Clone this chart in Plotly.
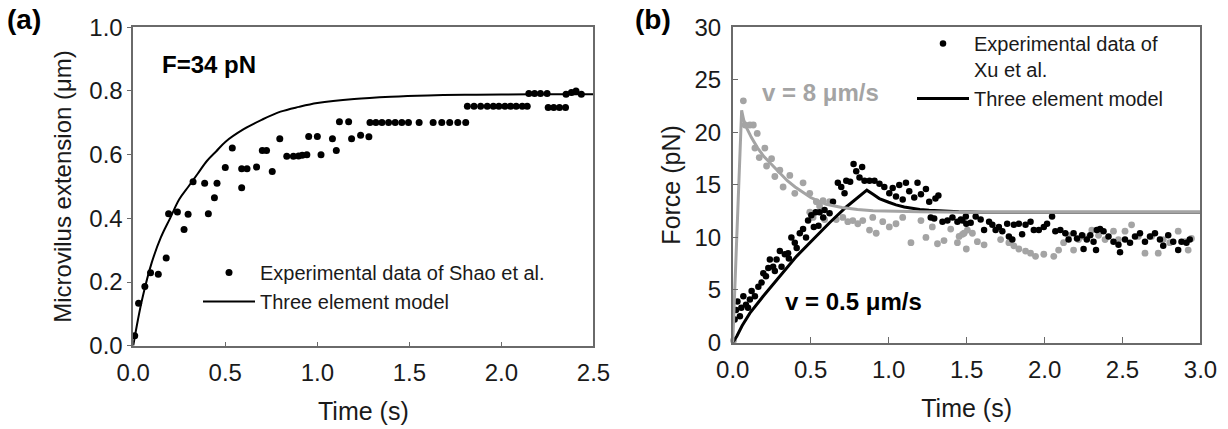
import plotly.graph_objects as go

# ---------------- Panel (a) data ----------------
a_exp_t = [0.008, 0.029, 0.063, 0.094, 0.136, 0.179, 0.192, 0.240, 0.276, 0.298,
           0.325, 0.388, 0.408, 0.441, 0.455, 0.500, 0.538, 0.589, 0.589, 0.618,
           0.670, 0.701, 0.724, 0.755, 0.796, 0.834, 0.870, 0.898, 0.918, 0.943,
           0.953, 1.000, 1.020, 1.082, 1.103, 1.120, 1.170, 1.186, 1.235, 1.280,
           1.286, 1.318, 1.351, 1.387, 1.423, 1.459, 1.495, 1.553, 1.629, 1.676,
           1.719, 1.763, 1.806,
           1.815, 1.851, 1.887, 1.923, 1.956, 1.986, 2.019, 2.050, 2.080, 2.113, 2.140,
           2.149, 2.180, 2.212, 2.248,
           2.254, 2.284, 2.315, 2.348,
           2.351, 2.380, 2.405, 2.434]
a_exp_y = [0.031, 0.133, 0.186, 0.229, 0.224, 0.275, 0.414, 0.420, 0.365, 0.413,
           0.515, 0.510, 0.414, 0.465, 0.510, 0.560, 0.621, 0.496, 0.556, 0.556,
           0.561, 0.613, 0.613, 0.547, 0.650, 0.595, 0.595, 0.596, 0.598, 0.600,
           0.657, 0.657, 0.600, 0.650, 0.613, 0.703, 0.703, 0.650, 0.661, 0.656,
           0.701, 0.701, 0.701, 0.701, 0.701, 0.701, 0.701, 0.701, 0.701, 0.701,
           0.701, 0.701, 0.701,
           0.752, 0.752, 0.752, 0.752, 0.752, 0.752, 0.752, 0.752, 0.752, 0.752, 0.752,
           0.792, 0.792, 0.792, 0.792,
           0.748, 0.748, 0.748, 0.748,
           0.790, 0.795, 0.800, 0.790]

a_model_t = [0.0, 0.025, 0.05, 0.1, 0.15, 0.2, 0.25, 0.3, 0.35, 0.4, 0.45, 0.5,
             0.6, 0.7, 0.8, 0.9, 1.0, 1.2, 1.4, 1.6, 1.8, 2.0, 2.25, 2.5]
a_model_y = [0.0, 0.08, 0.15, 0.26, 0.34, 0.40, 0.46, 0.50, 0.54, 0.58, 0.61, 0.64,
             0.68, 0.71, 0.735, 0.75, 0.762, 0.775, 0.782, 0.786, 0.788, 0.789, 0.79, 0.79]

# ---------------- Panel (b) data ----------------
b_black_t = [0.012, 0.021, 0.030, 0.046, 0.055, 0.068, 0.085, 0.098, 0.110, 0.121,
             0.142, 0.164, 0.185, 0.196, 0.213, 0.228, 0.238, 0.259, 0.270, 0.281,
             0.302, 0.313, 0.334, 0.355, 0.360, 0.376, 0.398, 0.410, 0.430, 0.451,
             0.470, 0.483, 0.504, 0.520, 0.532, 0.550, 0.557, 0.580, 0.589, 0.621,
             0.643, 0.674, 0.696, 0.717, 0.728, 0.753, 0.775, 0.792, 0.813, 0.830,
             0.845, 0.877, 0.909, 0.941, 0.972, 1.004, 1.026, 1.047, 1.068, 1.090,
             1.111, 1.132, 1.164, 1.185, 1.207, 1.239, 1.260, 1.270, 1.292, 1.300,
             1.319, 1.345, 1.377, 1.409, 1.441, 1.473, 1.498,
             1.463, 1.495, 1.526, 1.558, 1.590, 1.612, 1.644, 1.665, 1.686, 1.707,
             1.729, 1.760, 1.771, 1.793, 1.803, 1.835, 1.856, 1.878, 1.910, 1.931,
             1.963, 1.995, 2.016, 2.048, 2.069, 2.101, 2.133, 2.154, 2.186, 2.208,
             2.240, 2.250, 2.271, 2.293, 2.314, 2.330, 2.335, 2.356, 2.378, 2.410,
             2.442, 2.474, 2.484, 2.516, 2.548, 2.580, 2.612, 2.644, 2.676, 2.708,
             2.740, 2.761, 2.793, 2.825, 2.857, 2.878, 2.910, 2.931]
b_black_f = [2.2, 3.1, 3.9, 2.5, 3.3, 4.4, 3.6, 3.3, 4.1, 4.9,
             4.4, 5.3, 5.7, 6.6, 6.3, 7.1, 7.9, 7.2, 6.8, 7.9,
             8.7, 7.2, 8.4, 8.5, 8.0, 10.0, 9.5, 9.0, 10.4, 10.8,
             10.0, 11.6, 12.1, 11.0, 12.4, 11.1, 12.4, 11.9, 12.6, 12.3,
             13.4, 15.2, 14.8, 14.2, 15.4, 15.3, 17.0, 16.3, 15.7, 16.7,
             15.4, 15.4, 15.4, 15.1, 14.8, 14.2, 14.7, 13.9, 15.0, 13.6,
             15.2, 14.4, 13.8, 15.2, 14.1, 14.6, 13.4, 11.9, 11.8, 13.7,
             14.0, 11.5, 11.6, 11.9, 11.5, 11.6, 11.3,
             11.7, 12.0, 11.4, 12.0, 11.7, 10.7, 11.5, 11.2, 10.7, 11.0,
             10.6, 11.3, 10.1, 9.8, 11.2, 11.3, 10.3, 11.2, 11.5, 10.7,
             10.7, 11.0, 11.3, 12.0, 10.6, 10.7, 10.4, 9.8, 10.4, 9.9,
             10.2, 8.9, 9.8, 10.2, 9.6, 8.8, 10.7, 10.8, 10.6, 10.1,
             9.6, 9.3, 8.6, 9.8, 9.5, 10.1, 10.4, 9.6, 10.1, 10.4,
             9.8, 9.2, 10.2, 9.6, 8.8, 9.6, 9.5, 9.8]

b_gray_t = [0.005, 0.068, 0.079, 0.110, 0.132, 0.142, 0.157, 0.170, 0.206, 0.217,
            0.249, 0.270, 0.302, 0.323, 0.366, 0.398, 0.451, 0.494, 0.494, 0.515,
            0.536, 0.557, 0.579, 0.589, 0.621, 0.664, 0.706, 0.738, 0.770, 0.802,
            0.834, 0.877, 0.898, 0.920, 0.962, 1.004, 1.047, 1.090, 1.143, 1.207,
            1.239, 1.280, 1.313, 1.355, 1.398, 1.441, 1.473, 1.498,
            1.452, 1.484, 1.505, 1.537, 1.569, 1.612, 1.718, 1.771, 1.803, 1.835,
            1.878, 1.910, 1.942, 1.995, 2.059, 2.090, 2.122, 2.154, 2.186, 2.218,
            2.250, 2.303, 2.346, 2.388, 2.442, 2.474, 2.516, 2.558, 2.601, 2.644,
            2.686, 2.729, 2.761, 2.803, 2.857, 2.899, 2.921, 2.942]
b_gray_f = [0.2, 23.0, 20.7, 20.7, 20.7, 18.5, 19.9, 17.6, 18.5, 16.8,
            17.5, 15.8, 16.4, 14.8, 15.9, 14.2, 15.2, 14.2, 12.4, 11.9,
            13.4, 13.0, 13.5, 11.7, 13.4, 11.7, 11.9, 11.5, 11.6, 11.3,
            11.6, 10.7, 11.9, 10.4, 11.5, 11.0, 11.3, 11.9, 9.5, 11.6,
            10.0, 11.0, 9.4, 9.7, 10.8, 9.5, 10.3, 8.9,
            10.1, 10.4, 10.7, 10.4, 9.6, 9.3, 9.8, 9.5, 9.2, 8.9,
            8.7, 8.5, 8.2, 8.4, 8.2, 8.8, 9.5, 10.2, 8.8, 9.8,
            10.1, 10.7, 10.2, 9.8, 10.6, 9.8, 10.6, 11.2, 10.1, 8.5,
            10.1, 8.5, 9.8, 9.5, 10.6, 9.6, 8.8, 9.9]

b_model_slow_t = [0.0, 0.026, 0.06, 0.11, 0.195, 0.302, 0.409, 0.515, 0.621, 0.728,
                  0.80, 0.86, 0.90, 0.94, 1.0, 1.047, 1.10, 1.153, 1.20, 1.26,
                  1.35, 1.45, 1.6, 2.0, 2.5, 3.0]
b_model_slow_f = [0.0, 0.6, 1.6, 2.8, 4.4, 6.3, 8.2, 9.8, 11.4, 12.9,
                  13.8, 14.5, 14.1, 13.7, 13.35, 13.1, 12.9, 12.75, 12.65, 12.58,
                  12.5, 12.45, 12.4, 12.4, 12.4, 12.4]

b_model_fast_t = [0.0, 0.02, 0.04, 0.057, 0.07, 0.09, 0.12, 0.16, 0.20, 0.25,
                  0.30, 0.35, 0.40, 0.45, 0.50, 0.55, 0.60, 0.70, 0.80, 0.90,
                  1.0, 1.2, 1.5, 2.0, 2.5, 3.0]
b_model_fast_f = [0.0, 7.5, 15.5, 22.1, 21.2, 20.4, 19.5, 18.5, 17.7, 16.9,
                  16.1, 15.4, 14.8, 14.3, 13.8, 13.45, 13.15, 12.85, 12.65, 12.55,
                  12.5, 12.45, 12.4, 12.4, 12.4, 12.4]

a_ticks = [0.0, 0.5, 1.0, 1.5, 2.0, 2.5]
a_yticks = [0.0, 0.2, 0.4, 0.6, 0.8, 1.0]
b_ticks = [0.0, 0.5, 1.0, 1.5, 2.0, 2.5, 3.0]
b_yticks = [0, 5, 10, 15, 20, 25, 30]

FONT = "Arial, Liberation Sans, sans-serif"
GRAY = "#a4a4a4"
FRAME = "#6a6a6a"

fig = go.Figure()

# Panel (a)
fig.add_trace(go.Scatter(x=a_exp_t, y=a_exp_y, mode="markers",
                         marker=dict(color="black", size=7),
                         name="Experimental data of Shao et al.",
                         xaxis="x", yaxis="y", legend="legend", cliponaxis=False))
fig.add_trace(go.Scatter(x=a_model_t, y=a_model_y, mode="lines",
                         line=dict(color="black", width=2, shape="spline"),
                         name="Three element model",
                         xaxis="x", yaxis="y", legend="legend"))

# Panel (b)
fig.add_trace(go.Scatter(x=b_gray_t, y=b_gray_f, mode="markers",
                         marker=dict(color=GRAY, size=6.8),
                         showlegend=False, xaxis="x2", yaxis="y2", cliponaxis=False))
fig.add_trace(go.Scatter(x=b_black_t, y=b_black_f, mode="markers",
                         marker=dict(color="black", size=6.5),
                         name="Experimental data of<br>Xu et al.",
                         xaxis="x2", yaxis="y2", legend="legend2", cliponaxis=False))
fig.add_trace(go.Scatter(x=b_model_slow_t, y=b_model_slow_f, mode="lines",
                         line=dict(color="black", width=3),
                         name="Three element model",
                         xaxis="x2", yaxis="y2", legend="legend2"))
fig.add_trace(go.Scatter(x=b_model_fast_t, y=b_model_fast_f, mode="lines",
                         line=dict(color=GRAY, width=3),
                         showlegend=False, xaxis="x2", yaxis="y2"))

axis_common = dict(showline=True, mirror=True, linecolor=FRAME, linewidth=1.5,
                   showgrid=False, zeroline=False, tickcolor=FRAME, tickwidth=1.2,
                   automargin=False,
                   tickfont=dict(family=FONT, size=24, color="#1a1a1a"))

fig.update_layout(
    width=1228, height=429,
    margin=dict(l=0, r=0, t=0, b=0, autoexpand=False),
    paper_bgcolor="white", plot_bgcolor="white",
    font=dict(family=FONT, color="#1a1a1a"),
    xaxis=dict(domain=[0.1085, 0.4833], range=[0, 2.5], tickvals=a_ticks,
               tickformat=".1f", ticks="inside", ticklen=4, ticklabelstandoff=5,
               title=dict(text="Time (s)", font=dict(size=25), standoff=17),
               anchor="y", **axis_common),
    yaxis=dict(domain=[0.1942, 0.9364], range=[0, 1.0], tickvals=a_yticks,
               tickformat=".1f", ticks="outside", ticklen=4,
               title=dict(text="Microvilus extension (μm)", font=dict(size=24), standoff=11),
               anchor="x", **axis_common),
    xaxis2=dict(domain=[0.5967, 0.9776], range=[0, 3.0], tickvals=b_ticks,
                tickformat=".1f", ticks="inside", ticklen=6, ticklabelstandoff=5,
                title=dict(text="Time (s)", font=dict(size=25), standoff=17),
                anchor="y2", **axis_common),
    yaxis2=dict(domain=[0.2016, 0.9364], range=[0, 30], tickvals=b_yticks,
                ticks="inside", ticklen=6, ticklabelstandoff=5,
                title=dict(text="Force (pN)", font=dict(size=25), standoff=7),
                anchor="x2", **axis_common),
    legend=dict(x=198 / 1228, y=(429 - 253) / 429, xanchor="left", yanchor="top",
                bgcolor="rgba(0,0,0,0)", itemwidth=52,
                font=dict(family=FONT, size=20, color="#1a1a1a")),
    legend2=dict(x=912 / 1228, y=(429 - 24) / 429, xanchor="left", yanchor="top",
                 bgcolor="rgba(0,0,0,0)", itemwidth=52, valign="top",
                 font=dict(family=FONT, size=20, color="#1a1a1a")),
    showlegend=True,
    annotations=[
        dict(text="<b>F=34 pN</b>", x=0.145, y=0.882, xref="x", yref="y",
             xanchor="left", yanchor="middle", showarrow=False,
             font=dict(family=FONT, size=24, color="black")),
        dict(text="<b>v = 8 μm/s</b>", x=0.175, y=23.8, xref="x2", yref="y2",
             xanchor="left", yanchor="middle", showarrow=False,
             font=dict(family=FONT, size=24, color=GRAY)),
        dict(text="<b>v = 0.5 μm/s</b>", x=0.323, y=3.92, xref="x2", yref="y2",
             xanchor="left", yanchor="middle", showarrow=False,
             font=dict(family=FONT, size=24, color="black")),
        dict(text="<b>(a)</b>", x=5 / 1228, y=(429 - 20) / 429, xref="paper", yref="paper",
             xanchor="left", yanchor="middle", showarrow=False,
             font=dict(family=FONT, size=28, color="black")),
        dict(text="<b>(b)</b>", x=633 / 1228, y=(429 - 19) / 429, xref="paper", yref="paper",
             xanchor="left", yanchor="middle", showarrow=False,
             font=dict(family=FONT, size=28, color="black")),
    ],
)

fig.write_html("out.html",
               config={"displayModeBar": False},
               post_script="document.body.style.margin='0px';"
                           "document.body.style.overflow='hidden';")
